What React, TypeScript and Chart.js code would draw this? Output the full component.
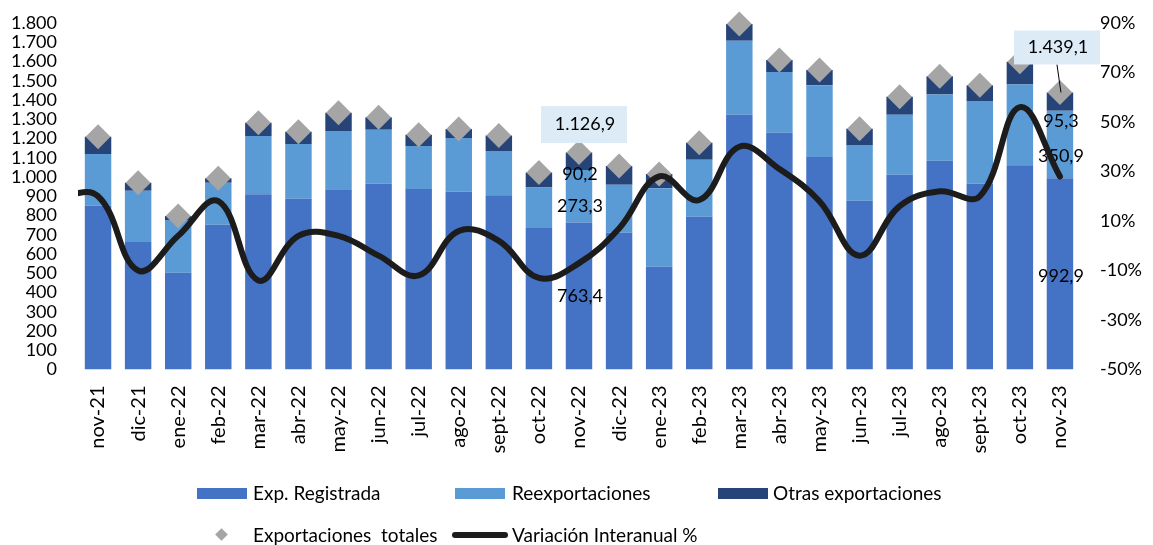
import React, { useEffect, useRef } from 'react';
import { Chart, registerables } from 'chart.js';

Chart.register(...registerables);

const categories = ['nov-21', 'dic-21', 'ene-22', 'feb-22', 'mar-22', 'abr-22', 'may-22', 'jun-22', 'jul-22', 'ago-22', 'sept-22', 'oct-22', 'nov-22', 'dic-22', 'ene-23', 'feb-23', 'mar-23', 'abr-23', 'may-23', 'jun-23', 'jul-23', 'ago-23', 'sept-23', 'oct-23', 'nov-23'];

const expRegistrada = [851, 662, 503, 752, 910, 887, 932, 965, 938, 924, 905, 735, 763.4, 711, 534, 794, 1324, 1230, 1104, 877, 1012, 1085, 965, 1061, 992.9];
const reexportaciones = [268, 267, 274, 218, 303, 284, 307, 281, 223, 279, 230, 211, 273.3, 249, 407, 296, 384, 315, 372, 289, 312, 343, 430, 420, 350.9];
const otrasExportaciones = [90, 41, 20, 23, 69, 64, 95, 64, 59, 46, 80, 78, 90.2, 97, 75, 88, 87, 63, 80, 85, 93, 95, 81, 118, 95.3];

// Variación interanual %: first value is the month before nov-21 (clipped at the left edge)
const variacionPrevia = 20;
const variacion = [20, -10, 4, 18, -14, 4, 4, -4, -12, 6, 2, -13, -7, 7, 28, 18.5, 40, 31, 18, -4, 16, 22, 20, 56, 28];

const leftTicks = { min: 0, max: 1800, step: 100 };
const rightTicks = { min: -50, max: 90, step: 20 };

const annotated = [12, 24];

const totales = expRegistrada.map((v, i) => Math.round((v + reexportaciones[i] + otrasExportaciones[i]) * 10) / 10);

const C_REG = '#4472C4';
const C_REEXP = '#5B9BD5';
const C_OTRAS = '#264478';
const C_TOTAL = '#A5A5A5';
const C_LINE = '#1C1C1C';
const FONT = 'Lato, "Open Sans", sans-serif';

function fmtThousands(v: number): string {
  const s = Math.round(v).toString();
  return s.replace(/\B(?=(\d{3})+(?!\d))/g, '.');
}
function fmtValue(v: number): string {
  const [ip, dp] = v.toFixed(1).split('.');
  return ip.replace(/\B(?=(\d{3})+(?!\d))/g, '.') + ',' + dp;
}

const labelPlugin = {
  id: 'customLabels',
  afterDatasetDraw(chart: any, args: any) {
    if (args.index !== 3) return;
    const ctx = chart.ctx as CanvasRenderingContext2D;
    ctx.save();
    ctx.font = `18px ${FONT}`;
    ctx.fillStyle = '#000';
    ctx.textAlign = 'center';
    ctx.textBaseline = 'middle';
    const offsets: Record<number, number[]> = { 12: [0, 10, 13], 24: [2, 12, 20] };
    const series = [expRegistrada, reexportaciones, otrasExportaciones];
    annotated.forEach((i) => {
      for (let d = 0; d < 3; d++) {
        const el: any = chart.getDatasetMeta(d).data[i];
        const cy = (el.y + el.base) / 2 + offsets[i][d];
        ctx.fillText(fmtValue(series[d][i]), el.x + 1, cy);
      }
    });
    const tmeta = chart.getDatasetMeta(3);
    const boxes: Record<number, { dx: number; dy: number; w: number; h: number; leader: boolean }> = {
      12: { dx: 5, dy: -28, w: 86, h: 37, leader: false },
      24: { dx: -3, dy: -45, w: 86, h: 34, leader: true },
    };
    annotated.forEach((i) => {
      const el: any = tmeta.data[i];
      const b = boxes[i];
      const cx = el.x + b.dx;
      const cy = el.y + b.dy;
      if (b.leader) {
        ctx.strokeStyle = '#000';
        ctx.lineWidth = 1;
        ctx.beginPath();
        ctx.moveTo(cx, cy + b.h / 2);
        ctx.lineTo(el.x + 1, el.y);
        ctx.stroke();
      }
      ctx.fillStyle = '#DDEBF7';
      ctx.fillRect(cx - b.w / 2, cy - b.h / 2, b.w, b.h);
      ctx.fillStyle = '#000';
      ctx.fillText(fmtValue(totales[i]), cx + 1, cy);
    });
    ctx.restore();
  },
};

export default function App() {
  const ref = useRef<HTMLCanvasElement>(null);

  useEffect(() => {
    document.body.style.margin = '0';
    Chart.defaults.font.family = FONT;
    Chart.defaults.color = '#000';
    const lineData = [{ x: -1, y: variacionPrevia }, ...variacion.map((v, i) => ({ x: i, y: v }))];
    const barCommon = { stack: 's', order: 3, grouped: false, barPercentage: 0.66, categoryPercentage: 1, yAxisID: 'y', xAxisID: 'x' };
    const fixVPad = (s: any) => { s.paddingTop = 11; s.paddingBottom = 11; };
    const chart = new Chart(ref.current!, {
      type: 'bar',
      data: {
        labels: categories,
        datasets: [
          { label: 'Exp. Registrada', data: expRegistrada, backgroundColor: C_REG, ...barCommon },
          { label: 'Reexportaciones', data: reexportaciones, backgroundColor: C_REEXP, ...barCommon },
          { label: 'Otras exportaciones', data: otrasExportaciones, backgroundColor: C_OTRAS, ...barCommon },
          {
            type: 'line', label: 'Exportaciones  totales', data: totales, showLine: false,
            pointStyle: 'rectRot', pointRadius: 12.5, pointBackgroundColor: C_TOTAL, pointBorderWidth: 0,
            pointBorderColor: C_TOTAL, order: 2, yAxisID: 'y', xAxisID: 'xd', clip: false,
          } as any,
          {
            type: 'line', label: 'Variación Interanual %', data: lineData, borderColor: C_LINE, borderWidth: 6,
            tension: 0.4, pointRadius: 0, order: 1, yAxisID: 'y1', xAxisID: 'xl', borderCapStyle: 'round',
            clip: { left: 0, top: 10, right: 10, bottom: 10 },
          } as any,
        ],
      },
      options: {
        animation: false,
        responsive: false,
        layout: { padding: { top: 23, left: 0, right: 0, bottom: 0 } },
        plugins: { legend: { display: false }, tooltip: { enabled: false } },
        scales: {
          x: {
            type: 'category',
            offset: true,
            grid: { display: false, drawTicks: false, offset: true },
            border: { display: false },
            ticks: { maxRotation: 90, minRotation: 90, autoSkip: false, padding: 16, font: { size: 20 }, color: '#000' },
            afterFit: (s: any) => { s.height = 175.5; },
          },
          xd: { type: 'category', display: false, offset: true, grid: { offset: true } },
          xl: { type: 'linear', display: false, offset: false, min: -0.5, max: 24.5, grid: { offset: false } },
          y: {
            position: 'left', min: leftTicks.min, max: leftTicks.max,
            grid: { display: false, drawTicks: false }, border: { display: false },
            ticks: { stepSize: leftTicks.step, autoSkip: false, padding: 21, font: { size: 18 }, color: '#000', callback: (v: any) => fmtThousands(Number(v)) },
            afterFit: (s: any) => { s.width = 78; fixVPad(s); },
          },
          y1: {
            position: 'right', min: rightTicks.min, max: rightTicks.max,
            grid: { display: false, drawTicks: false }, border: { display: false },
            ticks: { stepSize: rightTicks.step, autoSkip: false, padding: 20, font: { size: 18 }, color: '#000', callback: (v: any) => `${v}%` },
            afterFit: (s: any) => { s.width = 73; fixVPad(s); },
          },
        },
      },
      plugins: [labelPlugin],
    } as any);
    return () => chart.destroy();
  }, []);

  const textStyle: React.CSSProperties = { position: 'absolute', fontFamily: FONT, fontSize: 19, lineHeight: '22px', color: '#000', whiteSpace: 'pre' };

  return (
    <div style={{ position: 'fixed', left: 0, top: 0, width: 1153, height: 545, background: '#fff', overflow: 'hidden' }}>
      <canvas ref={ref} width={1153} height={545} style={{ position: 'absolute', left: 0, top: 0, width: 1153, height: 545 }} />
      <div style={{ position: 'absolute', left: 197, top: 488, width: 50, height: 11, background: C_REG }} />
      <span style={{ ...textStyle, left: 253, top: 482 }}>Exp. Registrada</span>
      <div style={{ position: 'absolute', left: 455, top: 488, width: 50, height: 11, background: C_REEXP }} />
      <span style={{ ...textStyle, left: 512, top: 482 }}>Reexportaciones</span>
      <div style={{ position: 'absolute', left: 718, top: 488, width: 50, height: 11, background: C_OTRAS }} />
      <span style={{ ...textStyle, left: 773, top: 482 }}>Otras exportaciones</span>
      <div style={{ position: 'absolute', left: 217, top: 530, width: 9, height: 9, background: C_TOTAL, transform: 'rotate(45deg)' }} />
      <span style={{ ...textStyle, left: 253, top: 524 }}>Exportaciones  totales</span>
      <div style={{ position: 'absolute', left: 452, top: 532, width: 56, height: 6, borderRadius: 3, background: C_LINE }} />
      <span style={{ ...textStyle, left: 512, top: 524 }}>Variación Interanual %</span>
    </div>
  );
}
